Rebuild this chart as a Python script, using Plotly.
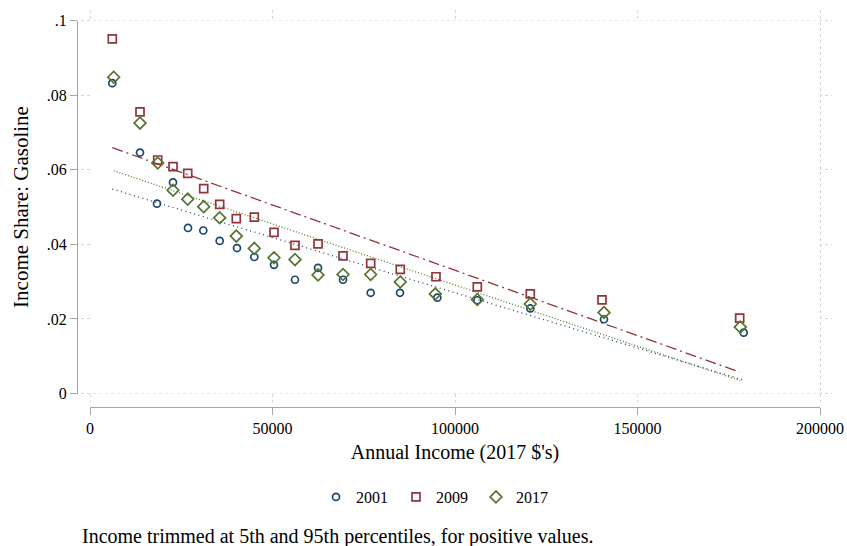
import numpy as np
import plotly.graph_objects as go

# Binned household income (2017 $) and gasoline budget share, by survey year
income_2001 = [6110, 13700, 18360, 22740, 26850, 31040, 35530, 40270, 45010, 50410,
               56160, 62470, 69320, 76900, 84930, 95150, 106110, 120630, 140820, 179100]
share_2001 = [0.0832, 0.0646, 0.0509, 0.0566, 0.0444, 0.0437, 0.0409, 0.0390, 0.0366, 0.0345,
              0.0305, 0.0337, 0.0305, 0.0270, 0.0270, 0.0257, 0.0250, 0.0228, 0.0199, 0.0163]

income_2009 = [6110, 13700, 18550, 22740, 26770, 31150, 35530, 40080, 45010, 50410,
               56160, 62470, 69320, 76900, 85010, 94790, 106110, 120630, 140270, 178000]
share_2009 = [0.0951, 0.0755, 0.0626, 0.0608, 0.0590, 0.0549, 0.0507, 0.0469, 0.0473, 0.0432,
              0.0397, 0.0401, 0.0369, 0.0349, 0.0333, 0.0313, 0.0286, 0.0267, 0.0251, 0.0202]

income_2017 = [6490, 13700, 18550, 22740, 26770, 31150, 35530, 40080, 45010, 50410,
               56160, 62470, 69320, 76900, 85010, 94600, 106110, 120630, 140820, 178160]
share_2017 = [0.0848, 0.0725, 0.0618, 0.0545, 0.0521, 0.0501, 0.0471, 0.0422, 0.0389, 0.0364,
              0.0359, 0.0318, 0.0319, 0.0319, 0.0299, 0.0267, 0.0252, 0.0240, 0.0217, 0.0178]

x_ticks = [0, 50000, 100000, 150000, 200000]
x_tick_labels = ["0", "50000", "100000", "150000", "200000"]
y_ticks = [0, 0.02, 0.04, 0.06, 0.08, 0.1]
y_tick_labels = ["0", ".02", ".04", ".06", ".08", ".1"]

NAVY = "#1a476f"
MAROON = "#90353b"
GREEN = "#55752f"
FONT = "Liberation Serif, Times New Roman, serif"

# Page geometry (pixels)
FIG_W, FIG_H = 847, 546
PLOT_L, PLOT_R, PLOT_T, PLOT_B = 77, 832, 10, 407
PW, PH = PLOT_R - PLOT_L, PLOT_B - PLOT_T
GRID_L, GRID_B = 81, 402          # extent of the grid region
X0_PX, X1_PX = 90, 820            # pixel positions of x = 0 and x = 200000
Y0_PX, Y1_PX = 393.5, 20.5        # pixel positions of y = 0 and y = 0.1

kx = (X1_PX - X0_PX) / 200000.0
ky = (Y0_PX - Y1_PX) / 0.1

fig = go.Figure()

series = [
    ("2001", income_2001, share_2001, NAVY, "circle-open", 7, "1px,3.5px"),
    ("2009", income_2009, share_2009, MAROON, "square-open", 8, "11px,4px,2px,4px"),
    ("2017", income_2017, share_2017, GREEN, "diamond-open", 9, "1px,2px"),
]

# Linear fits
for name, xs, ys, col, sym, size, dash in series:
    xs_a, ys_a = np.array(xs, float), np.array(ys, float)
    slope, intercept = np.polyfit(xs_a, ys_a, 1)
    fx = np.array([xs_a.min(), xs_a.max()])
    fig.add_trace(go.Scatter(
        x=fx, y=intercept + slope * fx, mode="lines",
        line=dict(color=col, width=1.3, dash=dash),
        xaxis="x2", yaxis="y2", showlegend=False, hoverinfo="skip"))

# Scatter points
for name, xs, ys, col, sym, size, dash in series:
    fig.add_trace(go.Scatter(
        x=xs, y=ys, mode="markers", name=name,
        marker=dict(symbol=sym, size=size, color=col, line=dict(color=col, width=1.7)),
        xaxis="x2", yaxis="y2"))

# Placeholder trace so the grid subplot is drawn
fig.add_trace(go.Scatter(x=[None], y=[None], xaxis="x", yaxis="y",
                         showlegend=False, hoverinfo="skip"))

grid_style = dict(showgrid=True, gridcolor="#d4d4d4", gridwidth=1, griddash="dot",
                  showticklabels=False, ticks="", zeroline=False, showline=False,
                  automargin=False)

axis_style = dict(showline=True, linecolor="#a6a6a6", linewidth=1.3,
                  ticks="outside", ticklen=7, tickcolor="#a6a6a6", tickwidth=1.3,
                  showgrid=False, zeroline=False, automargin=False,
                  tickfont=dict(family=FONT, size=16))

fig.update_layout(
    width=FIG_W, height=FIG_H,
    margin=dict(l=PLOT_L, r=FIG_W - PLOT_R, t=PLOT_T, b=FIG_H - PLOT_B, pad=0),
    paper_bgcolor="white", plot_bgcolor="white",
    font=dict(family=FONT, size=16, color="black"),
    xaxis=dict(domain=[(GRID_L - PLOT_L) / PW, 1],
               range=[(GRID_L - X0_PX) / kx, (PLOT_R - X0_PX) / kx],
               tickvals=x_ticks, anchor="y", **grid_style),
    yaxis=dict(domain=[(PLOT_B - GRID_B) / PH, 1],
               range=[(Y0_PX - GRID_B) / ky, (Y0_PX - PLOT_T) / ky],
               tickvals=y_ticks, anchor="x", **grid_style),
    xaxis2=dict(domain=[(X0_PX - PLOT_L) / PW, (X1_PX - PLOT_L) / PW],
                range=[0, 200000], anchor="free", position=0,
                tickvals=x_ticks, ticktext=x_tick_labels,
                title=dict(text="Annual Income (2017 $'s)", standoff=8,
                           font=dict(family=FONT, size=20)),
                **axis_style),
    yaxis2=dict(domain=[(PLOT_B - Y0_PX) / PH, (PLOT_B - Y1_PX) / PH],
                range=[0, 0.1], anchor="free", position=0,
                tickvals=y_ticks, ticktext=y_tick_labels,
                title=dict(text="Income Share: Gasoline", standoff=11,
                           font=dict(family=FONT, size=21)),
                **axis_style),
    legend=dict(orientation="h", x=(316 - PLOT_L) / PW, xanchor="left",
                y=(PLOT_B - 497) / PH, yanchor="middle",
                font=dict(family=FONT, size=16), entrywidth=35,
                entrywidthmode="pixels", bgcolor="rgba(0,0,0,0)"),
    annotations=[dict(text="Income trimmed at 5th and 95th percentiles, for positive values.",
                      xref="paper", yref="paper", x=(80 - PLOT_L) / PW, xanchor="left",
                      y=(PLOT_B - 536) / PH, yanchor="middle", showarrow=False,
                      font=dict(family=FONT, size=20))],
)

fig.write_html("out.html")
